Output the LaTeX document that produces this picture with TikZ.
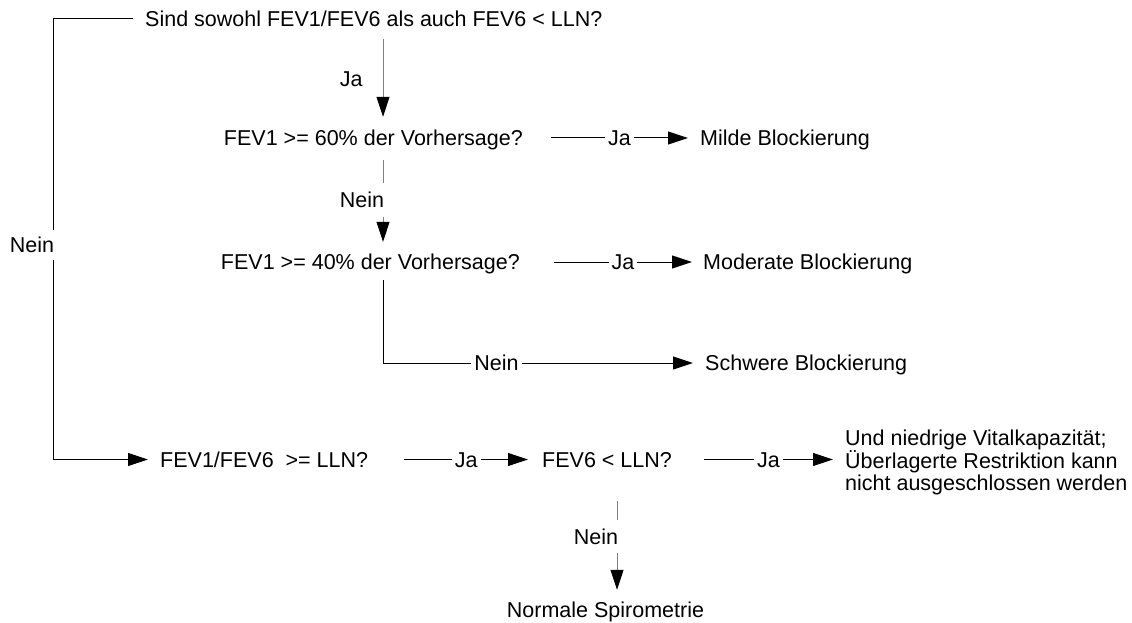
\documentclass[tikz,border=0pt]{standalone}
\usepackage{fontspec}
\setmainfont{Liberation Sans}
\usetikzlibrary{arrows.meta,calc}
\begin{document}
\begin{tikzpicture}[x=1pt,y=-1pt,
 every node/.style={font=\fontsize{21.5}{21.5}\selectfont, text=black},
 txt/.style={inner sep=0pt, text height=17pt, text depth=1.6pt},
 lbl/.style={txt, fill=white, inner xsep=3pt},
 sidelbl/.style={txt, fill=white, anchor=east, xshift=1.5pt},
 arr/.style={line width=1pt, draw=black, -{Triangle[length=20pt,width=13pt]}},
 varr/.style={line width=1pt, draw=black!50, -{Triangle[length=20pt,width=13pt,color=black]}}
]
\useasboundingbox[fill=white] (0,0) rectangle (1132,623);
\coordinate (vx1) at (383,0);
\coordinate (vx2) at (617,0);

\node[txt, anchor=west] (q0) at (145,19) {Sind sowohl FEV1/FEV6 als auch FEV6 < LLN?};
\node[txt, anchor=east] (q1) at (523,138) {FEV1 >= 60\% der Vorhersage?};
\node[txt, anchor=east] (q2) at (520,262) {FEV1 >= 40\% der Vorhersage?};
\node[txt, anchor=west] (r1) at (700,138) {Milde Blockierung};
\node[txt, anchor=west] (r2) at (703,262) {Moderate Blockierung};
\node[txt, anchor=west] (r3) at (705,363) {Schwere Blockierung};
\node[txt, anchor=west] (q3) at (160,459.5) {FEV1/FEV6\ \ >= LLN?};
\node[txt, anchor=west] (q4) at (542,459.5) {FEV6 < LLN?};
\node[inner sep=0pt, anchor=west, align=left] (r4) at (845,462) {Und niedrige Vitalkapazität;\\Überlagerte Restriktion kann\\nicht ausgeschlossen werden};
\node[txt] (r5) at (605.5,610) {Normale Spirometrie};

% connectors
\draw[varr, shorten <=10.7pt, shorten >=11.7pt] (q0.south -| vx1) -- node[txt, left=20pt]{Ja} (q1.north -| vx1);
\draw[arr] ([xshift=28pt]q1.east) -- node[lbl]{Ja} ([xshift=-12pt]r1.west);
\draw[varr, shorten <=12.7pt, shorten >=10.7pt] (q1.south -| vx1) -- node[sidelbl, inner ysep=7.7pt]{Nein} (q2.north -| vx1);
\draw[arr] ([xshift=34pt]q2.east) -- node[lbl]{Ja} ([xshift=-11pt]r2.west);
\draw[arr, shorten <=8.7pt] (q2.south -| vx1) |- node[lbl, pos=0.683]{Nein} ([xshift=-12pt]r3.west);
\draw[arr] ([xshift=-12pt]q0.west) -- ++(-80,0) |- node[sidelbl, pos=0.2565, inner ysep=5.7pt]{Nein} ([xshift=-12pt]q3.west);
\draw[arr] ([xshift=36pt]q3.east) -- node[lbl]{Ja} ([xshift=-14pt]q4.west);
\draw[arr] ([xshift=32pt]q4.east) -- node[lbl]{Ja} ($(r4.west |- q4.east)+(-12,0)$);
\draw[varr, shorten <=32.2pt, shorten >=10.7pt] (q4.south -| vx2) -- node[sidelbl, pos=0.517, inner ysep=7.2pt]{Nein} (r5.north -| vx2);
\end{tikzpicture}
\end{document}
